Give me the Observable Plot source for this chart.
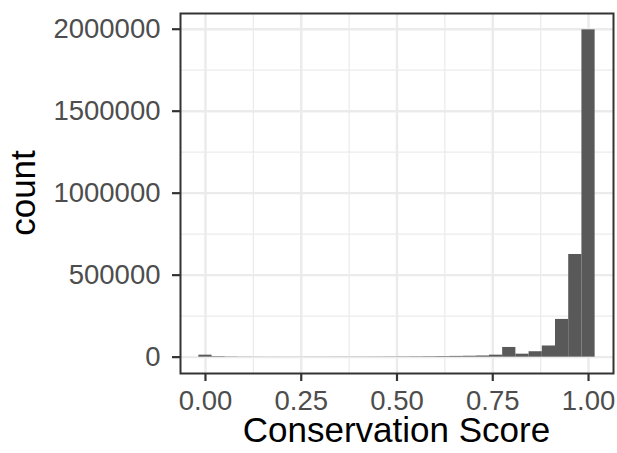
<!DOCTYPE html>
<html><head><meta charset="utf-8">
<script src="https://cdn.jsdelivr.net/npm/d3@7"></script>
<script src="https://cdn.jsdelivr.net/npm/@observablehq/plot@0.6"></script>
<style>
html,body{margin:0;padding:0;background:#fff;}
svg [aria-label="x-axis tick"], svg [aria-label="y-axis tick"]{stroke:#333333;}
svg [aria-label="x-axis tick label"], svg [aria-label="y-axis tick label"]{fill:#4D4D4D;}
</style>
</head><body><div id="chart"></div>
<script>
// 30 histogram bins (ggplot default), width 1/29, centred on 0 … 1
const binCount = 30;
const counts = [12000, 3000, 1500, 800, 600, 500, 500, 500, 600, 700,
                800, 900, 1000, 1200, 1500, 1800, 2200, 2800, 3500, 4500,
                5500, 7000, 12000, 59000, 18000, 33000, 68000, 230000, 626000, 1996000];
const xTicks = [0, 0.25, 0.5, 0.75, 1];
const xMinor = [0.125, 0.375, 0.625, 0.875];
const yTicks = [0, 500000, 1000000, 1500000, 2000000];
const yMinor = [250000, 750000, 1250000, 1750000];
const xTitle = "Conservation Score";
const yTitle = "count";

const binWidth = 1 / (binCount - 1);
const bins = counts.map((c, i) => ({x1: i * binWidth - binWidth / 2, x2: i * binWidth + binWidth / 2, count: c}));
const yMax = d3.max(counts);

const W = 617, H = 453, mL = 180, mR = 4, mT = 13, mB = 80;

const chart = Plot.plot({
  width: W,
  height: H,
  marginLeft: mL,
  marginRight: mR,
  marginTop: mT,
  marginBottom: mB,
  style: {fontFamily: "'Liberation Sans', Arial, sans-serif", background: "#ffffff"},
  x: {domain: [-0.0652, 1.0652]},
  y: {domain: [-0.05 * yMax, 1.05 * yMax]},
  marks: [
    Plot.ruleY(yMinor, {stroke: "#EBEBEB", strokeWidth: 1.2}),
    Plot.ruleX(xMinor, {stroke: "#EBEBEB", strokeWidth: 1.2}),
    Plot.ruleY(yTicks, {stroke: "#EBEBEB", strokeWidth: 2.4}),
    Plot.ruleX(xTicks, {stroke: "#EBEBEB", strokeWidth: 2.4}),
    Plot.rectY(bins, {x1: "x1", x2: "x2", y: "count", fill: "#595959"}),
    Plot.frame({stroke: "#333333", strokeWidth: 2}),
    Plot.axisX({ticks: xTicks, tickFormat: d3.format(".2f"), tickSize: 8, tickPadding: 9, fontSize: 27.5, strokeWidth: 2.2, label: null}),
    Plot.axisY({ticks: yTicks, tickFormat: d3.format("d"), tickSize: 8, tickPadding: 12, fontSize: 27.5, strokeWidth: 2.2, label: null})
  ]
});

const svg = d3.select(chart);
const cx = mL + (W - mL - mR) / 2;
const cy = mT + (H - mT - mB) / 2;
svg.append("text")
  .attr("x", cx).attr("y", 441.5)
  .attr("text-anchor", "middle")
  .attr("font-size", 35).attr("fill", "#000000")
  .text(xTitle);
svg.append("text")
  .attr("transform", `translate(35,${cy}) rotate(-90)`)
  .attr("text-anchor", "middle")
  .attr("font-size", 35).attr("fill", "#000000")
  .text(yTitle);

document.getElementById("chart").appendChild(chart);
</script>
</body></html>
